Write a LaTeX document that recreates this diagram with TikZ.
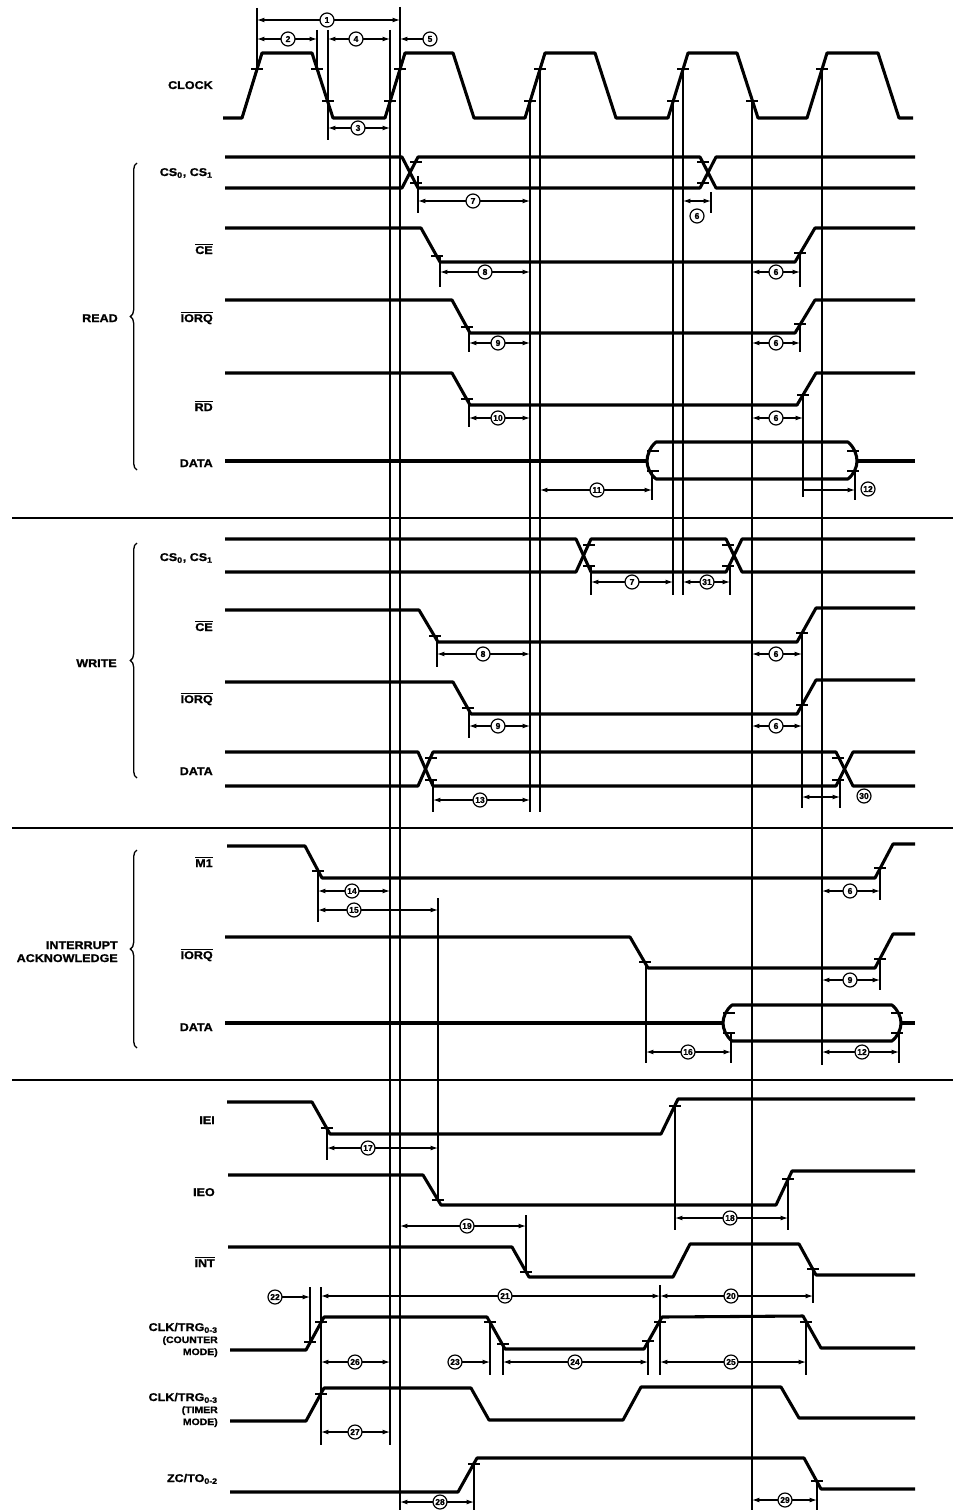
\documentclass[tikz,border=0pt]{standalone}
\usepackage{fontspec}
\setmainfont{Liberation Sans}[FakeStretch=1.12,BoldFeatures={FakeBold=1.2}]
\newfontfamily\numfont{Liberation Sans}[BoldFeatures={FakeBold=1}]
\usetikzlibrary{arrows.meta,decorations.pathreplacing}
\newcommand\VL[3]{\draw[refl] (#1,#2) -- (#1,#3);}
\newcommand\TK[2]{\draw[tk] ({#1-6},#2) -- ({#1+6},#2);}
\newcommand\DD[6]{\draw[dimln,<->] (#3,#2) -- (#4,#2);\node[num] (#1) at (#5,#2) {#6};}
\begin{document}
\begin{tikzpicture}[x=0.75pt,y=-0.75pt,
  sig/.style={line width=2.3pt,line join=round},
  refl/.style={line width=0.95pt},
  tk/.style={line width=1.1pt},
  dimln/.style={line width=0.8pt},
  sepl/.style={line width=0.8pt},
  num/.style={circle,draw,line width=0.9pt,fill=white,inner sep=0pt,minimum size=10.5pt,font=\numfont\bfseries\fontsize{6.4}{6.4}\selectfont},
  lab/.style={anchor=base east,inner sep=0pt,font=\bfseries\fontsize{8.4}{9}\selectfont},
  labs/.style={anchor=base east,inner sep=0pt,font=\bfseries\fontsize{7}{8}\selectfont},
  >={Latex[length=5.5pt,width=3.6pt]}]
\useasboundingbox (0,0) rectangle (953,1512);
\fill[white] (0,0) rectangle (953,1512);

% ---------- section separators
\draw[sepl] (12,518) -- (953,518);
\draw[sepl] (12,828) -- (953,828);
\draw[sepl] (12,1080) -- (953,1080);

% ---------- long reference lines
\VL{257}{8}{69}
\VL{317}{30}{69}
\VL{328}{30}{140}
\VL{390}{30}{1445}
\VL{400}{7}{1510}
\VL{530}{101}{812}
\VL{540}{69}{812}
\VL{673}{101}{595}
\VL{683}{69}{595}
\VL{752}{101}{1510}
\VL{822}{69}{1065}

% ---------- labels
\node[lab] (lclk) at (213,89) {CLOCK};
\node[lab] (lrcs) at (213,176) {CS\textsubscript{0}, CS\textsubscript{1}};
\node[lab] (lrce) at (213,254) {$\overline{\mbox{CE}}$};
\node[lab] (lrio) at (213,322) {$\overline{\mbox{IORQ}}$};
\node[lab] (lrrd) at (213,411) {$\overline{\mbox{RD}}$};
\node[lab] (lrdt) at (213,467) {DATA};
\node[lab] (lread) at (118,322) {READ};
\node[lab] (lwcs) at (213,561) {CS\textsubscript{0}, CS\textsubscript{1}};
\node[lab] (lwce) at (213,631) {$\overline{\mbox{CE}}$};
\node[lab] (lwio) at (213,703) {$\overline{\mbox{IORQ}}$};
\node[lab] (lwdt) at (213,775) {DATA};
\node[lab] (lwrite) at (117,667) {WRITE};
\node[lab] (lm1) at (213,867) {$\overline{\mbox{M1}}$};
\node[lab] (lint1) at (118,949) {INTERRUPT};
\node[lab] (lint2) at (118,962) {ACKNOWLEDGE};
\node[lab] (liio) at (213,959) {$\overline{\mbox{IORQ}}$};
\node[lab] (lidt) at (213,1031) {DATA};
\node[lab] (liei) at (215,1124) {IEI};
\node[lab] (lieo) at (215,1196) {IEO};
\node[lab] (lint) at (215,1267) {$\overline{\mbox{INT}}$};
\node[lab] (lc1) at (218,1331) {CLK/TRG\textsubscript{0-3}};
\node[labs] (lc2) at (218,1343) {(COUNTER};
\node[labs] (lc3) at (218,1355) {MODE)};
\node[lab] (lt1) at (218,1401) {CLK/TRG\textsubscript{0-3}};
\node[labs] (lt2) at (218,1413) {(TIMER};
\node[labs] (lt3) at (218,1425) {MODE)};
\node[lab] (lzc) at (218,1482) {ZC/TO\textsubscript{0-2}};

% ---------- braces
\draw[line width=1pt,decorate,decoration={brace,amplitude=5pt}] (137,470) -- (137,163);
\draw[line width=1pt,decorate,decoration={brace,amplitude=5pt}] (137,778) -- (137,543);
\draw[line width=1pt,decorate,decoration={brace,amplitude=5pt}] (137,1048) -- (137,850);

% ---------- CLOCK
\draw[sig] (223,118) -- (242,118) -- (262,53) -- (312,53) -- (333,118) -- (385,118) -- (405,53) -- (453,53) -- (474,118) -- (525,118) -- (545,53) -- (595,53) -- (616,118) -- (668,118) -- (688,53) -- (737,53) -- (758,118) -- (807,118) -- (827,53) -- (878,53) -- (899,118) -- (913,118);
\TK{257}{69}\TK{317}{69}\TK{328}{101}\TK{390}{101}\TK{400}{69}
\TK{530}{101}\TK{540}{69}\TK{673}{101}\TK{683}{69}\TK{752}{101}\TK{822}{69}
\DD{d1}{20}{257}{400}{327}{1}
\DD{d2}{39}{257}{317}{288}{2}
\DD{d4}{39}{328}{390}{356}{4}
\DD{d3}{128}{328}{390}{358}{3}
\draw[dimln,->] (423,39) -- (400,39);
\node[num] (d5) at (430,39) {5};

% ---------- READ
\draw[sig] (225,157) -- (402,157) -- (418,188) -- (700,188) -- (716,157) -- (915,157);
\draw[sig] (225,188) -- (402,188) -- (418,157) -- (700,157) -- (716,188) -- (915,188);
\TK{416}{162}\TK{416}{183}\TK{703}{162}\TK{703}{183}
\VL{418}{176}{213}\VL{711}{192}{213}
\DD{r7}{201}{418}{530}{473}{7}
\draw[dimln,<->] (683,201) -- (711,201);
\node[num] (r6a) at (697,216) {6};

\draw[sig] (225,228) -- (421,228) -- (440,262) -- (795,262) -- (815,228) -- (915,228);
\TK{437}{256}\TK{800}{253}
\VL{440}{256}{287}\VL{800}{253}{287}
\DD{r8}{272}{440}{530}{485}{8}
\DD{r6b}{272}{752}{800}{776}{6}

\draw[sig] (225,300) -- (452,300) -- (470,333) -- (795,333) -- (815,300) -- (915,300);
\TK{467}{327}\TK{800}{324}
\VL{469}{327}{352}\VL{800}{324}{352}
\DD{r9}{343}{469}{530}{498}{9}
\DD{r6c}{343}{752}{800}{776}{6}

\draw[sig] (225,373) -- (452,373) -- (470,405) -- (797,405) -- (816,373) -- (915,373);
\TK{467}{399}\TK{803}{395}
\VL{469}{399}{427}\VL{803}{395}{497}
\DD{r10}{418}{469}{530}{498}{10}
\DD{r6d}{418}{752}{803}{776}{6}

\draw[sig] (225,461) -- (647,461);
\draw[sig] (656,442) -- (848,442) .. controls (854,447) and (857,455) .. (857,461) .. controls (857,467) and (854,474) .. (848,479) -- (656,479) .. controls (650,474) and (647,467) .. (647,461) .. controls (647,455) and (650,447) .. (656,442) -- cycle;
\draw[sig] (857,461) -- (915,461);
\TK{653}{451}\TK{653}{471}\TK{853}{451}\TK{853}{471}
\VL{652}{471}{500}\VL{855}{471}{500}
\DD{r11}{490}{540}{652}{597}{11}
\draw[dimln,->] (803,490) -- (855,490);
\node[num] (r12) at (868,489) {12};

% ---------- WRITE
\draw[sig] (225,539) -- (576,539) -- (591,572) -- (726,572) -- (742,539) -- (915,539);
\draw[sig] (225,572) -- (576,572) -- (591,539) -- (726,539) -- (742,572) -- (915,572);
\TK{589}{545}\TK{589}{566}\TK{728}{545}\TK{728}{566}
\VL{591}{565}{595}\VL{730}{565}{595}
\DD{w7}{582}{591}{673}{632}{7}
\DD{w31}{582}{683}{730}{707}{31}

\draw[sig] (225,610) -- (419,610) -- (438,642) -- (797,642) -- (816,608) -- (915,608);
\TK{435}{636}\TK{802}{633}
\VL{437}{636}{667}\VL{802}{633}{808}
\DD{w8}{654}{437}{530}{483}{8}
\DD{w6a}{654}{752}{802}{776}{6}

\draw[sig] (225,682) -- (453,682) -- (471,714) -- (797,714) -- (816,680) -- (915,680);
\TK{468}{708}\TK{802}{705}
\VL{469}{708}{738}
\DD{w9}{726}{469}{530}{498}{9}
\DD{w6b}{726}{752}{802}{776}{6}

\draw[sig] (225,752) -- (418,752) -- (433,786) -- (836,786) -- (853,752) -- (915,752);
\draw[sig] (225,786) -- (418,786) -- (433,752) -- (836,752) -- (853,786) -- (915,786);
\TK{431}{758}\TK{431}{780}\TK{838}{758}\TK{838}{780}
\VL{433}{780}{812}\VL{840}{778}{808}
\DD{w13}{800}{433}{530}{480}{13}
\draw[dimln,<->] (802,797) -- (840,797);
\node[num] (w30) at (864,796) {30};

% ---------- INTERRUPT ACKNOWLEDGE
\draw[sig] (227,846) -- (305,846) -- (322,878) -- (875,878) -- (893,844) -- (915,844);
\TK{318}{871}\TK{880}{868}
\VL{318}{871}{922}\VL{438}{898}{1200}\VL{880}{868}{900}
\DD{i14}{891}{318}{390}{352}{14}
\DD{i15}{910}{318}{438}{354}{15}
\DD{i6}{891}{822}{880}{850}{6}

\draw[sig] (225,937) -- (630,937) -- (648,968) -- (875,968) -- (893,934) -- (915,934);
\TK{645}{962}\TK{880}{959}
\VL{646}{962}{1063}\VL{880}{959}{990}
\DD{i9}{980}{822}{880}{850}{9}

\draw[sig] (225,1023) -- (723,1023);
\draw[sig] (732,1005) -- (892,1005) .. controls (898,1010) and (901,1017) .. (901,1023) .. controls (901,1029) and (898,1036) .. (892,1041) -- (732,1041) .. controls (726,1036) and (723,1029) .. (723,1023) .. controls (723,1017) and (726,1010) .. (732,1005) -- cycle;
\draw[sig] (901,1023) -- (915,1023);
\TK{729}{1013}\TK{729}{1033}\TK{897}{1013}\TK{897}{1033}
\VL{731}{1033}{1063}\VL{899}{1033}{1063}
\DD{i16}{1052}{646}{731}{688}{16}
\DD{i12}{1052}{822}{899}{862}{12}

% ---------- IEI / IEO / INT
\draw[sig] (227,1102) -- (312,1102) -- (330,1134) -- (661,1134) -- (678,1099) -- (915,1099);
\TK{327}{1128}\TK{675}{1106}
\VL{327}{1128}{1160}\VL{675}{1106}{1230}
\DD{b17}{1148}{327}{438}{368}{17}

\draw[sig] (228,1175) -- (423,1175) -- (441,1205) -- (776,1205) -- (792,1171) -- (915,1171);
\TK{438}{1200}\TK{788}{1179}
\VL{788}{1179}{1230}
\DD{b18}{1218}{675}{788}{730}{18}
\DD{b19}{1226}{400}{526}{467}{19}

\draw[sig] (228,1247) -- (512,1247) -- (529,1277) -- (673,1277) -- (690,1244) -- (799,1244) -- (816,1275) -- (915,1275);
\TK{526}{1272}\TK{813}{1269}
\VL{526}{1215}{1272}\VL{813}{1269}{1303}

% ---------- CLK/TRG counter mode
\draw[dimln,<->] (321,1296) -- (660,1296);
\node[num] (b21) at (505,1296) {21};
\draw[dimln,<->] (660,1296) -- (813,1296);
\node[num] (b20) at (731,1296) {20};
\draw[dimln,->] (282,1297) -- (310,1297);
\node[num] (b22) at (275,1297) {22};
\draw[sig] (230,1350) -- (306,1350) -- (324,1317) -- (487,1317) -- (505,1349) -- (644,1349) -- (662,1317) -- (803,1316) -- (821,1348) -- (915,1348);
\TK{310}{1342}\TK{321}{1322}\TK{490}{1322}\TK{503}{1344}\TK{648}{1341}\TK{660}{1322}\TK{806}{1322}
\VL{310}{1287}{1342}\VL{321}{1287}{1445}\VL{660}{1285}{1375}
\VL{490}{1322}{1375}\VL{503}{1344}{1375}\VL{648}{1341}{1375}\VL{806}{1322}{1375}
\DD{b26}{1362}{321}{390}{355}{26}
\draw[dimln,->] (462,1362) -- (490,1362);
\node[num] (b23) at (455,1362) {23};
\DD{b24}{1362}{503}{648}{575}{24}
\DD{b25}{1362}{660}{806}{731}{25}

% ---------- CLK/TRG timer mode
\draw[sig] (230,1421) -- (306,1421) -- (324,1388) -- (471,1388) -- (489,1420) -- (623,1420) -- (641,1387) -- (781,1387) -- (799,1418) -- (915,1418);
\TK{321}{1394}
\DD{b27}{1432}{321}{390}{355}{27}

% ---------- ZC/TO
\draw[sig] (230,1492) -- (458,1492) -- (477,1458) -- (804,1458) -- (821,1489) -- (915,1489);
\TK{474}{1464}\TK{817}{1481}
\VL{474}{1464}{1510}\VL{817}{1481}{1510}
\DD{b28}{1502}{400}{474}{440}{28}
\DD{b29}{1500}{752}{817}{785}{29}
\end{tikzpicture}
\end{document}
